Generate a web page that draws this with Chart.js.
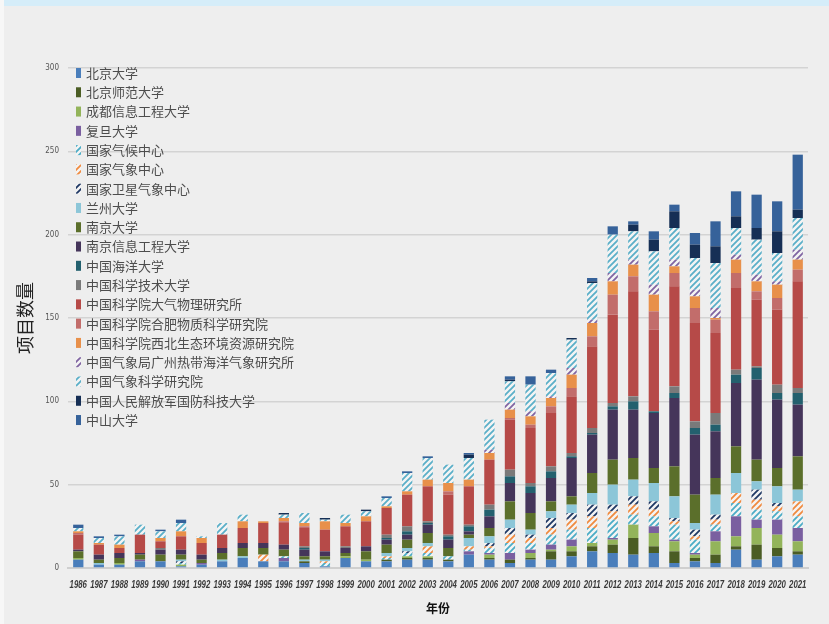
<!DOCTYPE html>
<html>
<head>
<meta charset="utf-8">
<script src="https://cdn.jsdelivr.net/npm/chart.js@4.4.1/dist/chart.umd.min.js"></script>
<style>
  html, body { margin: 0; padding: 0; background: #eeeeee; overflow: hidden; }
  #strip { position: absolute; left: 0; top: 0; width: 829px; height: 6px; background: #d5edf9; }
  #edge { position: absolute; left: 0; top: 0; width: 4px; height: 624px; background: #f7f7f7; }
  #wrap { position: absolute; left: 0; top: 0; width: 829px; height: 624px; }
</style>
</head>
<body>
<div id="strip"></div>
<div id="edge"></div>
<div id="wrap"><canvas id="chart" width="829" height="624"></canvas></div>
<script>
const years = ['1986','1987','1988','1989','1990','1991','1992','1993','1994','1995','1996','1997','1998','1999','2000','2001','2002','2003','2004','2005','2006','2007','2008','2009','2010','2011','2012','2013','2014','2015','2016','2017','2018','2019','2020','2021'];

const institutes = ['北京大学','北京师范大学','成都信息工程大学','复旦大学','国家气候中心','国家气象中心','国家卫星气象中心','兰州大学','南京大学','南京信息工程大学','中国海洋大学','中国科学技术大学','中国科学院大气物理研究所','中国科学院合肥物质科学研究院','中国科学院西北生态环境资源研究院','中国气象局广州热带海洋气象研究所','中国气象科学研究院','中国人民解放军国防科技大学','中山大学'];

const pku    = [5,2,2,4,4,1,2,4,6,4,4,3,1,6,4,4,5,5,4,8,5,3,5,5,7,10,9,8,9,3,4,3,11,5,7,8];
const bnu    = [0,0,0,0,0,0,0,0,0,0,0,1,0,0,0,1,1,1,1,0,1,2,1,5,3,3,5,10,4,7,2,5,2,9,5,2];
const cuit   = [1,0,1,0,0,1,0,0,0,0,0,0,0,1,1,0,1,1,0,0,2,0,3,1,3,2,3,8,8,6,2,8,6,10,8,6];
const fudan  = [0,0,0,1,0,0,1,0,0,0,2,0,0,0,0,0,0,0,0,2,1,4,2,3,4,0,1,0,4,1,1,6,12,5,9,8];
const ncc    = [0,0,0,0,0,1,0,0,0,0,1,0,2,0,0,1,2,2,2,1,3,6,4,6,6,9,11,6,6,9,8,4,8,6,5,7];
const nmc    = [0,0,0,0,0,0,0,0,0,4,0,0,1,0,0,1,0,4,0,2,1,5,3,4,6,7,5,6,4,2,2,3,6,6,3,9];
const nsmc   = [0,0,0,0,0,1,0,0,0,0,0,0,0,0,0,0,1,0,0,0,2,4,2,6,4,7,4,5,5,2,4,3,0,6,2,0];
const lzu    = [0,1,0,0,0,1,0,1,1,0,0,1,1,0,0,2,2,2,0,5,4,5,3,4,5,7,12,10,11,13,4,12,12,5,10,7];
const nju    = [4,2,3,3,4,3,2,4,5,4,4,2,2,2,5,5,5,6,5,2,5,11,10,6,5,12,15,13,9,18,17,10,16,13,11,20];
const nuist  = [1,3,3,1,3,3,3,3,3,3,3,4,3,3,3,3,3,5,5,2,7,11,12,14,23,23,30,29,33,41,36,28,38,48,41,31];
const ouc    = [0,0,0,0,0,0,0,0,0,0,0,1,0,0,0,1,2,1,2,3,4,4,4,4,1,1,2,5,1,3,4,4,5,7,4,7];
const ustc   = [0,0,0,0,1,0,0,0,0,0,0,1,0,1,0,2,3,1,1,1,3,4,2,3,2,3,2,3,0,4,4,7,3,1,5,3];
const iap    = [9,6,3,11,4,8,7,8,9,12,13,11,13,12,15,16,19,21,24,23,27,30,33,32,34,49,53,63,49,60,59,48,49,40,45,64];
const hfcas  = [1,0,0,0,0,0,0,0,0,0,1,1,0,0,0,0,0,0,2,0,0,1,2,4,5,6,12,9,11,8,9,8,9,5,7,7];
const nieer  = [1,1,2,0,2,3,3,0,4,1,2,2,5,2,3,1,2,4,5,4,4,5,5,5,8,8,8,7,10,4,7,1,8,6,8,6];
const gztmm  = [0,0,0,0,0,0,0,0,0,0,0,0,0,0,0,0,0,0,0,0,2,4,3,1,4,2,5,3,6,4,4,6,3,4,2,6];
const cams   = [2,3,5,6,4,5,1,7,4,0,2,6,1,5,3,5,11,13,11,13,18,13,16,14,17,22,23,17,20,19,19,27,16,21,17,19];
const nudt   = [0,0,0,0,0,0,0,0,0,0,1,0,1,0,1,0,0,0,0,2,0,1,0,0,1,1,0,4,7,10,8,10,7,7,13,5];
const sysu   = [2,1,1,0,1,2,0,0,0,0,0,0,0,0,0,1,1,1,0,1,0,2,5,2,0,2,5,2,5,4,7,15,15,20,18,33];

const yTicks = [0, 50, 100, 150, 200, 250, 300];

const series = [pku, bnu, cuit, fudan, ncc, nmc, nsmc, lzu, nju, nuist, ouc, ustc, iap, hfcas, nieer, gztmm, cams, nudt, sysu];
const colors = ['#4a7ebb','#4b5d24','#93b45a','#7a5fa0','#4bacc6','#f08a3e','#1f3864','#8cc6d8','#5b6f2b','#45355a','#23606e','#7a7a7a','#b64a48','#c26d6b','#e8904a','#8064a2','#5aafc8','#162f55','#36629a'];
const hatched = [false,false,false,false,true,true,true,false,false,false,false,false,false,false,false,true,true,false,false];

function hatch(color) {
  const c = document.createElement('canvas');
  c.width = 6; c.height = 6;
  const g = c.getContext('2d');
  g.fillStyle = '#f4f4f4';
  g.fillRect(0, 0, 6, 6);
  g.strokeStyle = color;
  g.lineWidth = 1.8;
  g.beginPath();
  g.moveTo(-1, 7); g.lineTo(7, -1);
  g.moveTo(-4, 4); g.lineTo(4, -4);
  g.moveTo(2, 10); g.lineTo(10, 2);
  g.stroke();
  return g.createPattern(c, 'repeat');
}

const fills = colors.map((c, i) => hatched[i] ? hatch(c) : c);

const datasets = institutes.map((name, i) => ({
  label: name,
  data: series[i],
  backgroundColor: fills[i],
  borderWidth: 0,
  barPercentage: 0.5,
  categoryPercentage: 1.0
}));

// legend drawn inside the plot, like the original
const overlayLegend = {
  id: 'overlayLegend',
  afterDatasetsDraw(chart) {
    const ctx = chart.ctx;
    ctx.save();
    ctx.font = '13px "Noto Sans CJK SC"';
    ctx.textBaseline = 'middle';
    institutes.forEach((name, i) => {
      const y = 73 + i * 19.28;
      ctx.fillStyle = fills[i];
      ctx.fillRect(76, y - 5, 5, 10);
      ctx.fillStyle = '#4d4d4d';
      ctx.fillText(name, 86, y);
    });
    ctx.restore();
  }
};

// narrow year labels (the original uses a condensed italic face)
const yearLabels = {
  id: 'yearLabels',
  afterDraw(chart) {
    const ctx = chart.ctx;
    const xs = chart.scales.x;
    const y = chart.chartArea.bottom + 17;
    ctx.save();
    ctx.font = 'italic bold 10px "Liberation Sans"';
    ctx.fillStyle = '#3a3a3a';
    ctx.textAlign = 'center';
    ctx.textBaseline = 'middle';
    years.forEach((yr, i) => {
      const x = xs.getPixelForValue(i);
      ctx.save();
      ctx.translate(x, y);
      ctx.scale(0.78, 1);
      ctx.fillText(yr, 0, 0);
      ctx.restore();
    });
    ctx.restore();
  }
};

new Chart(document.getElementById('chart'), {
  type: 'bar',
  data: { labels: years, datasets: datasets },
  plugins: [overlayLegend, yearLabels],
  options: {
    responsive: false,
    animation: false,
    layout: { padding: { left: 0, right: 21, top: 68, bottom: 0 } },
    plugins: { legend: { display: false }, tooltip: { enabled: false } },
    scales: {
      x: {
        stacked: true,
        grid: { display: false },
        border: { color: '#cfcfcf', width: 2 },
        ticks: { display: false },
        title: {
          display: true,
          text: '年份',
          color: '#111',
          padding: { top: 4, bottom: 8 },
          font: { family: '"Noto Sans CJK SC"', size: 12, weight: 'bold' }
        },
        afterFit(scale) { scale.height = 56; }
      },
      y: {
        stacked: true,
        min: 0,
        max: 300,
        afterBuildTicks(scale) { scale.ticks = yTicks.map(v => ({ value: v })); },
        grid: { color: '#d3d3d3', lineWidth: 1.5, drawTicks: false },
        border: { display: false },
        ticks: {
          color: '#555',
          padding: 9,
          font: { family: '"Liberation Sans Narrow", "DejaVu Sans Condensed", sans-serif', size: 8 }
        },
        title: {
          display: true,
          text: '项目数量',
          color: '#222',
          padding: { top: 14, bottom: 0 },
          font: { family: '"Noto Sans CJK SC"', size: 18 }
        },
        afterFit(scale) { scale.width = 68; }
      }
    }
  }
});
</script>
</body>
</html>
